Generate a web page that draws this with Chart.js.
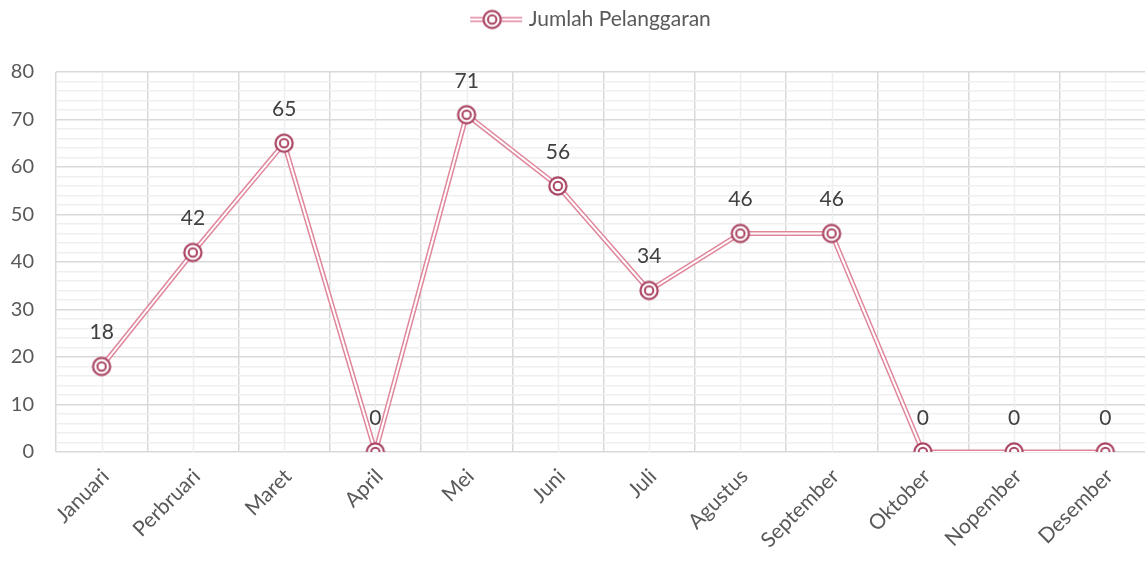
<!DOCTYPE html>
<html>
<head>
<meta charset="utf-8">
<script src="https://cdn.jsdelivr.net/npm/chart.js@4"></script>
<style>
html,body{margin:0;padding:0;background:#fff;overflow:hidden;}
#wrap{width:1163px;height:572px;position:relative;}
</style>
</head>
<body>
<div id="wrap"><canvas id="c"></canvas></div>
<script>
const categories = ['Januari','Perbruari','Maret','April','Mei','Juni','Juli','Agustus','September','Oktober','Nopember','Desember'];
const values = [18, 42, 65, 0, 71, 56, 34, 46, 46, 0, 0, 0];
const seriesName = 'Jumlah Pelanggaran';
const yTicks = [0, 10, 20, 30, 40, 50, 60, 70, 80];

const FONT = 'Lato, "Open Sans", sans-serif';
const PINK = '#e0869b';
const RING = '#a94462';

function makeMarker() {
  const c = document.createElement('canvas');
  c.width = 22; c.height = 22;
  const g = c.getContext('2d');
  g.fillStyle = '#fff';
  g.beginPath(); g.arc(11, 11, 8.6, 0, Math.PI * 2); g.fill();
  g.strokeStyle = RING; g.lineWidth = 2.2;
  g.beginPath(); g.arc(11, 11, 8.6, 0, Math.PI * 2); g.stroke();
  g.lineWidth = 2;
  g.beginPath(); g.arc(11, 11, 4.2, 0, Math.PI * 2); g.stroke();
  return c;
}
function makeLegendSymbol() {
  const c = document.createElement('canvas');
  c.width = 92; c.height = 22;
  const g = c.getContext('2d');
  g.strokeStyle = PINK; g.lineWidth = 5;
  g.beginPath(); g.moveTo(31, 11); g.lineTo(83, 11); g.stroke();
  g.strokeStyle = '#fff'; g.lineWidth = 2;
  g.beginPath(); g.moveTo(31, 11); g.lineTo(83, 11); g.stroke();
  g.drawImage(makeMarker(), 53 - 11, 0);
  return c;
}
const marker = makeMarker();
const legendSym = makeLegendSymbol();

const minorGrid = {
  id: 'minorGrid',
  beforeDatasetsDraw(chart) {
    const { ctx, chartArea: a, scales: { x } } = chart;
    ctx.save();
    ctx.strokeStyle = '#efefef';
    ctx.lineWidth = 1.5;
    for (let i = 0; i < categories.length; i++) {
      const px = Math.round(x.getPixelForValue(i)) + 0.5;
      ctx.beginPath(); ctx.moveTo(px, a.top); ctx.lineTo(px, a.bottom); ctx.stroke();
    }
    ctx.restore();
  }
};

const dataLabels = {
  id: 'dataLabels',
  afterDatasetsDraw(chart) {
    const { ctx } = chart;
    const meta = chart.getDatasetMeta(2);
    ctx.save();
    ctx.font = '21px ' + FONT;
    ctx.fillStyle = '#404040';
    ctx.textAlign = 'center';
    ctx.textBaseline = 'middle';
    meta.data.forEach((pt, i) => {
      ctx.fillText(String(values[i]), pt.x, pt.y - 34);
    });
    ctx.restore();
  }
};

new Chart(document.getElementById('c'), {
  type: 'line',
  data: {
    labels: categories,
    datasets: [
      { label: seriesName, data: values, borderColor: PINK, borderWidth: 5, pointRadius: 0, fill: false, tension: 0, order: 3 },
      { label: '_inner', data: values, borderColor: '#ffffff', borderWidth: 2, pointRadius: 0, fill: false, tension: 0, order: 2 },
      { label: '_marker', data: values, showLine: false, pointStyle: marker, pointRadius: 11, order: 1 }
    ]
  },
  options: {
    responsive: true,
    maintainAspectRatio: false,
    animation: false,
    devicePixelRatio: 1,
    layout: { padding: { left: 0, right: 0, top: 0, bottom: 0 } },
    plugins: {
      tooltip: { enabled: false },
      title: { display: true, text: '', font: { size: 10, lineHeight: 1 }, padding: { top: 0, bottom: 22 } },
      legend: {
        position: 'top',
        weight: 3000,
        labels: {
          usePointStyle: true,
          pointStyleWidth: 66,
          padding: 9,
          color: '#595959',
          font: { family: FONT, size: 21 },
          generateLabels: (chart) => [{
            text: seriesName, datasetIndex: 0, pointStyle: legendSym,
            fillStyle: PINK, strokeStyle: PINK, lineWidth: 0, hidden: false, fontColor: '#595959'
          }]
        }
      }
    },
    scales: {
      x: {
        offset: true,
        grid: { offset: true, color: '#d9d9d9', lineWidth: 1.5, drawTicks: false },
        border: { display: false },
        ticks: { color: '#595959', font: { family: FONT, size: 21 }, maxRotation: 45, minRotation: 45, padding: 12, labelOffset: 4, autoSkip: false },
        afterFit: (s) => { s.height = 120; }
      },
      y: {
        min: 0, max: 80,
        grid: {
          color: (ctx) => (ctx.tick && ctx.tick.value % 10 === 0) ? '#d9d9d9' : '#efefef',
          lineWidth: 1.5, drawTicks: false
        },
        border: { display: false },
        ticks: {
          stepSize: 2, autoSkip: false, padding: 22,
          color: '#595959', font: { family: FONT, size: 20 },
          callback: (v) => yTicks.includes(v) ? String(v) : ''
        },
        afterFit: (s) => { s.width = 56; }
      }
    }
  },
  plugins: [minorGrid, dataLabels]
});
</script>
</body>
</html>
